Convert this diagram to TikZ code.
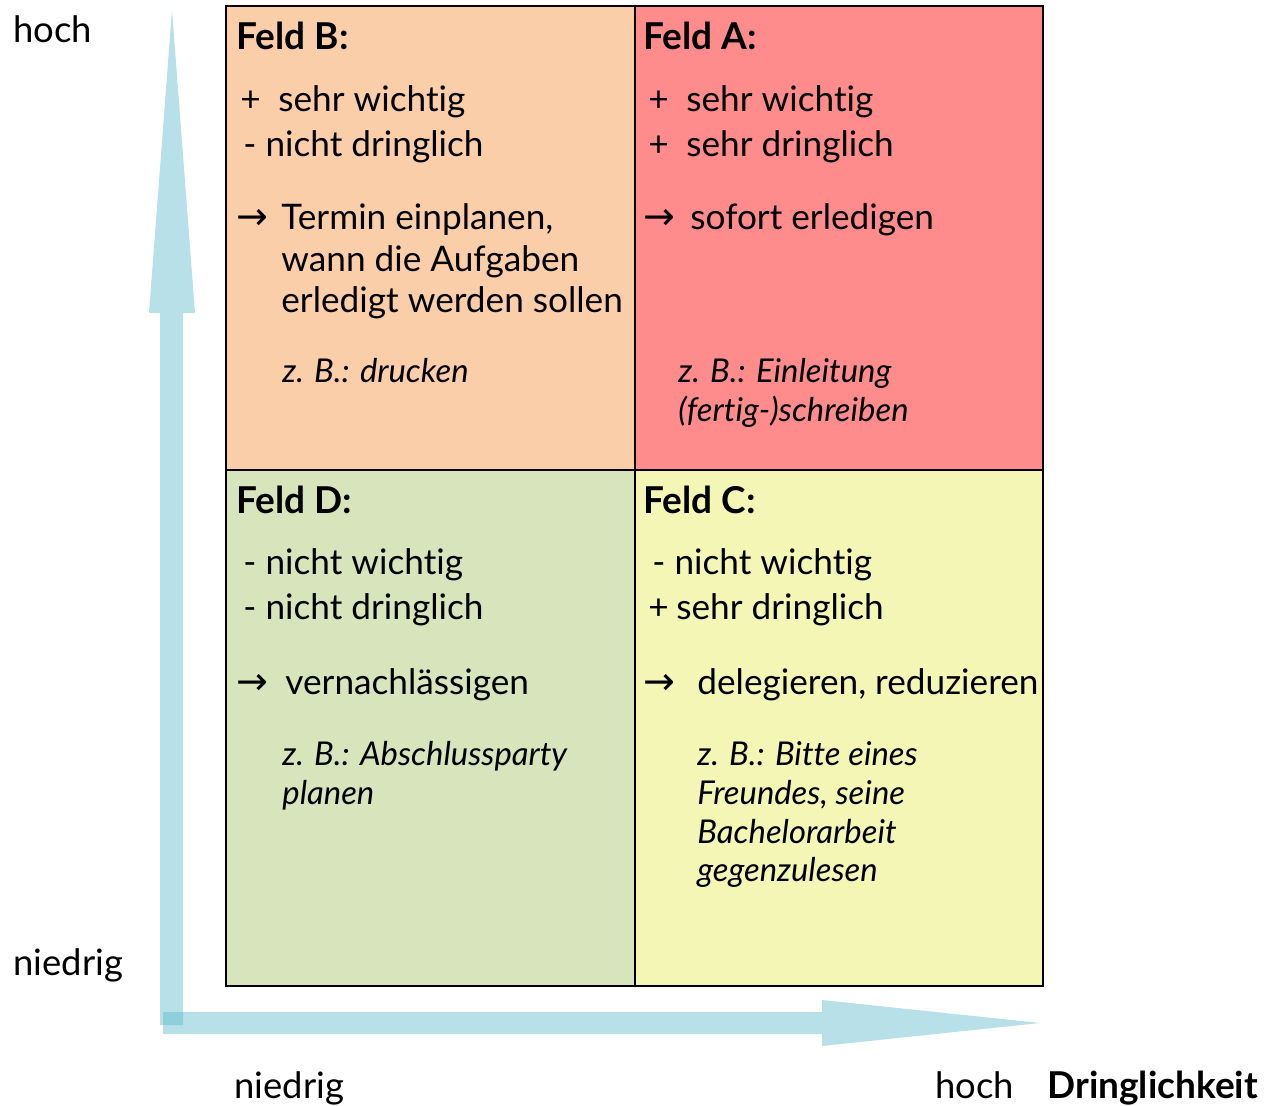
\documentclass[tikz,border=0pt]{standalone}
\usepackage{fontspec}
\setmainfont{Lato}[Ligatures=NoCommon]
\newfontfamily\symfont{DejaVu Sans}

\definecolor{feldA}{RGB}{255,140,140}
\definecolor{feldB}{RGB}{251,206,170}
\definecolor{feldC}{RGB}{244,246,182}
\definecolor{feldD}{RGB}{216,228,188}
\definecolor{achse}{RGB}{91,185,203}

\tikzset{
  zeile/.style={anchor=base west, inner sep=0pt, font=\fontsize{17.6}{21}\selectfont},
  achsentext/.style={anchor=base west, inner sep=0pt, font=\fontsize{18.2}{21}\selectfont},
  titel/.style={anchor=base west, inner sep=0pt, font=\fontsize{18.5}{22}\selectfont\bfseries},
  beispiel/.style={anchor=base west, inner sep=0pt, font=\fontsize{16.4}{20}\selectfont\itshape},
}
\newcommand{\pf}{\makebox[22.5pt][l]{\fontsize{19}{22}\symfont →}}

\begin{document}
\begin{tikzpicture}[x=0.5pt,y=-0.5pt]
        \useasboundingbox (0,0) rectangle (1270,1106);

        % Achsen
        \fill[achse,opacity=0.44] (160,1025) -- (160,313) -- (149,313) -- (172,10)
                -- (195,313) -- (183,313) -- (183,1025) -- cycle;
        \fill[achse,opacity=0.44] (163,1012) -- (822,1012) -- (822,1000) -- (1040,1023)
                -- (822,1046) -- (822,1034) -- (163,1034) -- cycle;

        % Felder
        \draw[line width=1.3pt,fill=feldB] (226,6) rectangle (635,470);
        \draw[line width=1.3pt,fill=feldA] (635,6) rectangle (1043,470);
        \draw[line width=1.3pt,fill=feldD] (226,470) rectangle (635,986);
        \draw[line width=1.3pt,fill=feldC] (635,470) rectangle (1043,986);

        % Feld B
        \node[titel] (tB) at (236,50) {Feld B:};
        \node[zeile] (b1) at (240,112) {\makebox[19pt][l]{+}sehr wichtig};
        \node[zeile] (b2) at (243,157) {- nicht dringlich};
        \node[zeile] (b3) at (236,230) {\pf Termin einplanen,};
        \node[zeile] (b4) at (281,272) {wann die Aufgaben};
        \node[zeile] (b5) at (281,313) {erledigt werden sollen};
        \node[beispiel] (bx) at (282,383) {z. B.: drucken};

        % Feld A
        \node[titel] (tA) at (643,50) {Feld A:};
        \node[zeile] (a1) at (648,112) {\makebox[19pt][l]{+}sehr wichtig};
        \node[zeile] (a2) at (648,157) {\makebox[19pt][l]{+}sehr dringlich};
        \node[zeile] (a3) at (643,230) {\makebox[23.5pt][l]{\fontsize{19}{22}\symfont →}sofort erledigen};
        \node[beispiel] (ax1) at (678,383) {z. B.: Einleitung};
        \node[beispiel] (ax2) at (678,422) {(fertig-)schreiben};

        % Feld D
        \node[titel] (tD) at (236,514) {Feld D:};
        \node[zeile] (d1) at (243,575) {- nicht wichtig};
        \node[zeile] (d2) at (243,620) {- nicht dringlich};
        \node[zeile] (d3) at (236,695) {\makebox[24.5pt][l]{\fontsize{19}{22}\symfont →}vernachlässigen};
        \node[beispiel] (dx1) at (282,766) {z. B.: Abschlussparty};
        \node[beispiel] (dx2) at (282,805) {planen};

        % Feld C
        \node[titel] (tC) at (643,514) {Feld C:};
        \node[zeile] (c1) at (652,575) {- nicht wichtig};
        \node[zeile] (c2) at (648,620) {\makebox[14pt][l]{+}sehr dringlich};
        \node[zeile] (c3) at (643,695) {\makebox[27pt][l]{\fontsize{19}{22}\symfont →}delegieren, reduzieren};
        \node[beispiel] (cx1) at (697,766) {z. B.: Bitte eines};
        \node[beispiel] (cx2) at (697,805) {Freundes, seine};
        \node[beispiel] (cx3) at (697,843) {Bachelorarbeit};
        \node[beispiel] (cx4) at (697,881) {gegenzulesen};

        % Beschriftung
        \node[achsentext] (yhoch) at (13,43) {hoch};
        \node[achsentext] (yniedrig) at (13,975) {niedrig};
        \node[achsentext] (xniedrig) at (234,1098) {niedrig};
        \node[achsentext] (xhoch) at (935,1098) {hoch};
        \node[titel] (xname) at (1047,1098) {Dringlichkeit};
\end{tikzpicture}
\end{document}
